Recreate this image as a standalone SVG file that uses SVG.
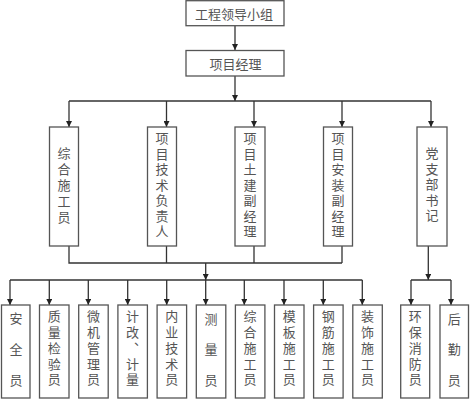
<svg xmlns="http://www.w3.org/2000/svg" width="470" height="400" viewBox="0 0 470 400">
<style>
.box{fill:#fff;stroke:#555;stroke-width:1.3}
.t{font-family:"Noto Sans CJK SC","Noto Sans CJK JP",sans-serif;font-size:13px;fill:#555;text-anchor:middle;dominant-baseline:central}
.v{font-family:"Noto Sans CJK SC","Noto Sans CJK JP",sans-serif;font-size:13px;fill:#555;writing-mode:vertical-rl;text-anchor:start}
.s7{letter-spacing:2.5px}
.s5{letter-spacing:2.7px}
.c{fill:none;stroke:#333;stroke-width:1.3}
</style>
<defs>
<marker id="ah" markerUnits="userSpaceOnUse" markerWidth="7" markerHeight="6" refX="6" refY="3" orient="auto">
<path d="M0,0 L6,3 L0,6 z" fill="#222"/>
</marker>
</defs>
<rect width="470" height="400" fill="#fff"/>

<g id="connectors">
<path class="c" d="M235,26 V50" marker-end="url(#ah)"/>
<path class="c" d="M235,76 V101" marker-end="url(#ah)"/>
<path class="c" d="M69,101 H431"/>
<path class="c" d="M69,101 V127" marker-end="url(#ah)"/>
<path class="c" d="M166.5,101 V127" marker-end="url(#ah)"/>
<path class="c" d="M254,101 V127" marker-end="url(#ah)"/>
<path class="c" d="M342,101 V127" marker-end="url(#ah)"/>
<path class="c" d="M431,101 V127" marker-end="url(#ah)"/>
<path class="c" d="M69,246 V263 H342 M166.5,246 V263 M254,246 V263 M342,246 V263"/>
<path class="c" d="M205.7,263 V280" marker-end="url(#ah)"/>
<path class="c" d="M10,280 H362.3"/>
<path class="c" d="M10,280 V305" marker-end="url(#ah)"/>
<path class="c" d="M49.3,280 V305" marker-end="url(#ah)"/>
<path class="c" d="M88.3,280 V305" marker-end="url(#ah)"/>
<path class="c" d="M127.7,280 V305" marker-end="url(#ah)"/>
<path class="c" d="M166.7,280 V305" marker-end="url(#ah)"/>
<path class="c" d="M205.7,280 V305" marker-end="url(#ah)"/>
<path class="c" d="M244.3,280 V305" marker-end="url(#ah)"/>
<path class="c" d="M284,280 V305" marker-end="url(#ah)"/>
<path class="c" d="M323.3,280 V305" marker-end="url(#ah)"/>
<path class="c" d="M362.3,280 V305" marker-end="url(#ah)"/>
<path class="c" d="M428.3,246 V280" marker-end="url(#ah)"/>
<path class="c" d="M411,280 H451"/>
<path class="c" d="M411,280 V305" marker-end="url(#ah)"/>
<path class="c" d="M451,280 V305" marker-end="url(#ah)"/>
</g>

<g id="n-leader">
<rect class="box" x="186" y="0.7" width="98" height="25"/>
<text class="t" x="234" y="13.5">工程领导小组</text>
</g>
<g id="n-pm">
<rect class="box" x="186" y="50.5" width="98" height="25.5"/>
<text class="t" x="235.5" y="63.5">项目经理</text>
</g>

<g id="n-zh1">
<rect class="box" x="49.5" y="127" width="29" height="119"/>
<text class="v" x="64" y="146.5" style="letter-spacing:3px">综合施工员</text>
</g>
<g id="n-tech">
<rect class="box" x="147.5" y="127" width="29" height="119"/>
<text class="v s7" x="162" y="132">项目技术负责人</text>
</g>
<g id="n-civil">
<rect class="box" x="235" y="127" width="30" height="119"/>
<text class="v s7" x="250" y="132">项目土建副经理</text>
</g>
<g id="n-install">
<rect class="box" x="323.5" y="127" width="29" height="119"/>
<text class="v s7" x="338" y="132">项目安装副经理</text>
</g>
<g id="n-party">
<rect class="box" x="417" y="127" width="30" height="119"/>
<text class="v s7" x="432" y="147">党支部书记</text>
</g>

<g id="n-b1">
<rect class="box" x="1.5" y="305" width="28.5" height="93"/>
<text class="t" x="16" y="317">安</text>
<text class="t" x="16" y="348.5">全</text>
<text class="t" x="16" y="379.5">员</text>
</g>
<g id="n-b2">
<rect class="box" x="39.5" y="305" width="29.5" height="93"/>
<text class="v s5" x="54.2" y="310">质量检验员</text>
</g>
<g id="n-b3">
<rect class="box" x="78.7" y="305" width="29.5" height="93"/>
<text class="v s5" x="93.4" y="310">微机管理员</text>
</g>
<g id="n-b4">
<rect class="box" x="117.9" y="305" width="29.5" height="93"/>
<text class="v s5" x="132.6" y="310">计改、计量</text>
</g>
<g id="n-b5">
<rect class="box" x="157.1" y="305" width="29.5" height="93"/>
<text class="v s5" x="171.8" y="310">内业技术员</text>
</g>
<g id="n-b6">
<rect class="box" x="196.3" y="305" width="29.5" height="93"/>
<text class="t" x="211" y="318">测</text>
<text class="t" x="211" y="348.5">量</text>
<text class="t" x="211" y="379.3">员</text>
</g>
<g id="n-b7">
<rect class="box" x="235.4" y="305" width="29.5" height="93"/>
<text class="v s5" x="250.1" y="310">综合施工员</text>
</g>
<g id="n-b8">
<rect class="box" x="274.5" y="305" width="29.5" height="93"/>
<text class="v s5" x="289.2" y="310">模板施工员</text>
</g>
<g id="n-b9">
<rect class="box" x="313.6" y="305" width="29.5" height="93"/>
<text class="v s5" x="328.3" y="310">钢筋施工员</text>
</g>
<g id="n-b10">
<rect class="box" x="352.8" y="305" width="29.5" height="93"/>
<text class="v s5" x="367.5" y="310">装饰施工员</text>
</g>
<g id="n-b11">
<rect class="box" x="400.7" y="305" width="29" height="93"/>
<text class="v s5" x="415.2" y="310">环保消防员</text>
</g>
<g id="n-b12">
<rect class="box" x="440" y="305" width="28.5" height="93"/>
<text class="t" x="454.2" y="318">后</text>
<text class="t" x="454.2" y="348.5">勤</text>
<text class="t" x="454.2" y="379.3">员</text>
</g>
</svg>
